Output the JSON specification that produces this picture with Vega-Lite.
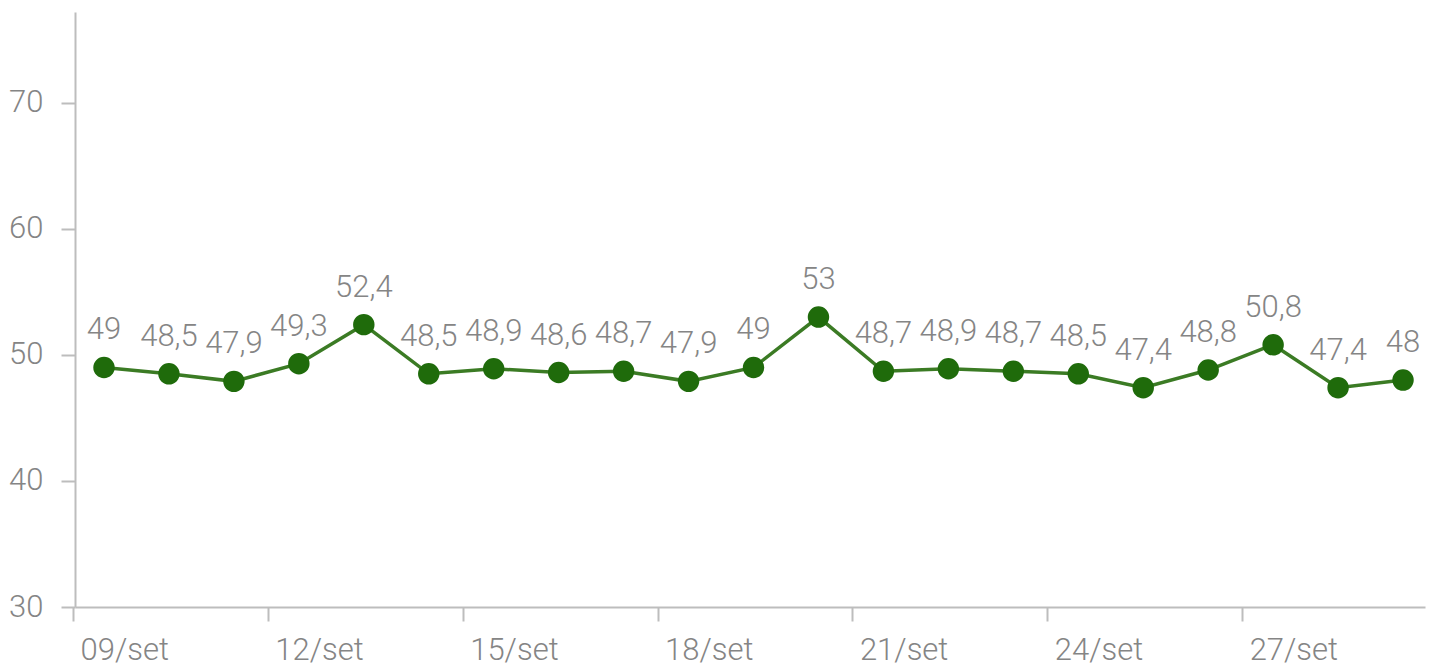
{
  "$schema": "https://vega.github.io/schema/vega-lite/v6.json",
  "width": 1350,
  "height": 595,
  "autosize": "none",
  "padding": {"left": 75, "top": 12, "right": 4, "bottom": 62},
  "data": {
    "values": [
      {"date": "2024-09-09T00:00", "value": 49},
      {"date": "2024-09-10T00:00", "value": 48.5},
      {"date": "2024-09-11T00:00", "value": 47.9},
      {"date": "2024-09-12T00:00", "value": 49.3},
      {"date": "2024-09-13T00:00", "value": 52.4},
      {"date": "2024-09-14T00:00", "value": 48.5},
      {"date": "2024-09-15T00:00", "value": 48.9},
      {"date": "2024-09-16T00:00", "value": 48.6},
      {"date": "2024-09-17T00:00", "value": 48.7},
      {"date": "2024-09-18T00:00", "value": 47.9},
      {"date": "2024-09-19T00:00", "value": 49},
      {"date": "2024-09-20T00:00", "value": 53},
      {"date": "2024-09-21T00:00", "value": 48.7},
      {"date": "2024-09-22T00:00", "value": 48.9},
      {"date": "2024-09-23T00:00", "value": 48.7},
      {"date": "2024-09-24T00:00", "value": 48.5},
      {"date": "2024-09-25T00:00", "value": 47.4},
      {"date": "2024-09-26T00:00", "value": 48.8},
      {"date": "2024-09-27T00:00", "value": 50.8},
      {"date": "2024-09-28T00:00", "value": 47.4},
      {"date": "2024-09-29T00:00", "value": 48}
    ]
  },
  "encoding": {
    "x": {
      "field": "date",
      "type": "temporal",
      "title": null,
      "scale": {
        "domain": [
          {"year": 2024, "month": 9, "date": 8, "hours": 13, "minutes": 17},
          {"year": 2024, "month": 9, "date": 29, "hours": 8, "minutes": 7}
        ]
      },
      "axis": {
        "values": [
          {"year": 2024, "month": 9, "date": 9},
          {"year": 2024, "month": 9, "date": 12},
          {"year": 2024, "month": 9, "date": 15},
          {"year": 2024, "month": 9, "date": 18},
          {"year": 2024, "month": 9, "date": 21},
          {"year": 2024, "month": 9, "date": 24},
          {"year": 2024, "month": 9, "date": 27}
        ],
        "format": "%d/set",
        "tickOffset": -31,
        "labelOffset": 7,
        "labelAlign": "left",
        "labelPadding": 14,
        "grid": false
      }
    },
    "y": {
      "field": "value",
      "type": "quantitative",
      "title": null,
      "scale": {"domain": [30, 77.2], "nice": false, "zero": false},
      "axis": {"values": [30, 40, 50, 60, 70], "grid": false, "labelPadding": 18}
    }
  },
  "layer": [
    {
      "mark": {"type": "line", "color": "#3b7b24", "strokeWidth": 3.5}
    },
    {
      "mark": {"type": "point", "filled": true, "opacity": 1, "color": "#1f6b0b", "size": 460}
    },
    {
      "mark": {
        "type": "text",
        "dy": -28,
        "baseline": "alphabetic",
        "font": "Roboto",
        "fontWeight": 300,
        "fontSize": 31,
        "color": "#858585"
      },
      "encoding": {
        "text": {"field": "value", "type": "quantitative", "format": "~g"}
      }
    }
  ],
  "config": {
    "locale": {
      "number": {"decimal": ",", "thousands": ".", "grouping": [3], "currency": ["R$", ""]}
    },
    "view": {"stroke": null},
    "axis": {
      "domainColor": "#bdbdbd",
      "domainWidth": 2,
      "tickColor": "#bdbdbd",
      "tickWidth": 2,
      "tickSize": 14,
      "labelFont": "Roboto",
      "labelFontWeight": 300,
      "labelFontSize": 31,
      "labelColor": "#858585"
    }
  }
}
